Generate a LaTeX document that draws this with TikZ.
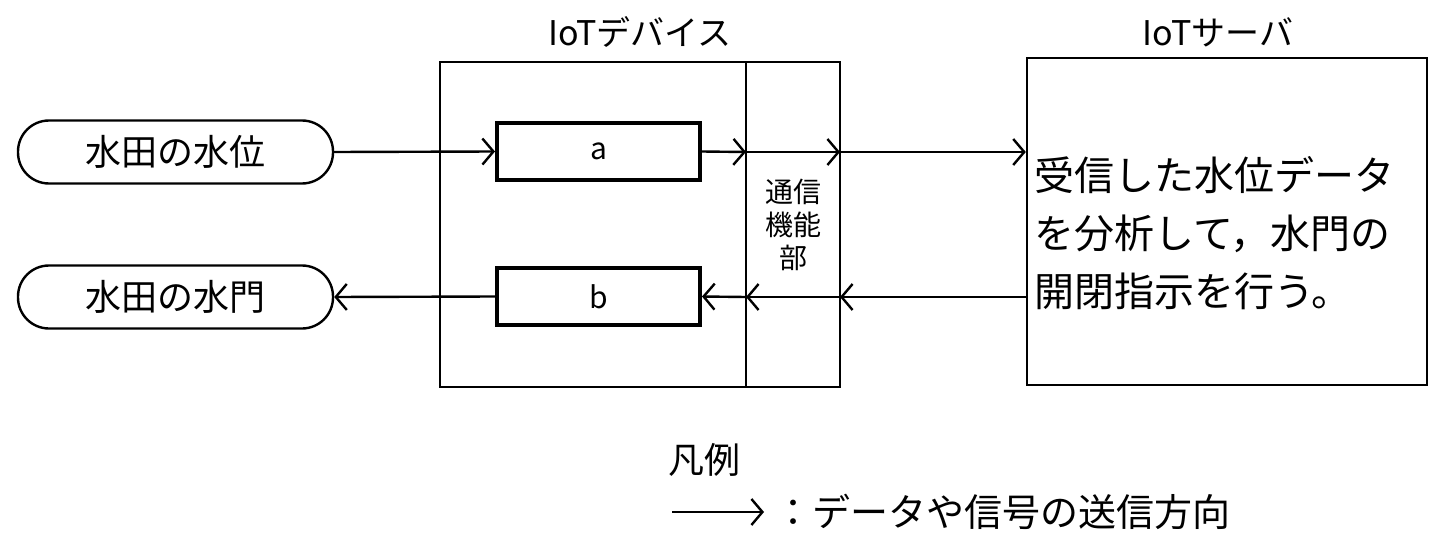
\documentclass[tikz,border=0pt]{standalone}
\usepackage{fontspec}
\setmainfont{Noto Sans CJK JP}
\usetikzlibrary{arrows.meta}
\begin{document}
\begin{tikzpicture}[x=1pt,y=-1pt,
  line width=2.4pt,
  arr/.style={-{Straight Barb[length=11pt,width=26pt,line width=2.4pt]}},
  pill/.style={draw,rounded corners=31pt,minimum width=315pt,minimum height=63pt,font=\fontsize{36}{40}\selectfont},
  blk/.style={draw,line width=4pt,minimum width=203pt,minimum height=57pt,font=\fontsize{30}{34}\selectfont},
  lbl/.style={font=\fontsize{34}{38}\selectfont}]
\useasboundingbox (0,0) rectangle (1443,535);
\node[pill] (in) at (175.5,152) {水田の水位};
\node[pill] (out) at (175.5,297) {水田の水門};
\node[draw,minimum width=400pt,minimum height=325pt] (dev) at (640,224.5) {};
\draw (746,62) coordinate (dt) -- (746,387) coordinate (db);
\node[blk] (a) at (598.5,151.5) {a};
\node[blk] (b) at (598.5,296.5) {b};
\node[font=\fontsize{28}{33}\selectfont,align=center] (com) at (793,225) {通信\\機能\\部};
\node[draw,minimum width=400pt,minimum height=327pt] (srv) at (1227,221.5) {};
\node[anchor=north west,align=left,font=\fontsize{40}{58}\selectfont,inner sep=0pt] (st) at (1033,155) {受信した水位データ\\を分析して，水門の\\開閉指示を行う。};
\node[lbl] (t1) at (640,32) {IoTデバイス};
\node[lbl] (t2) at (1218,32) {IoTサーバ};
\coordinate (u1) at (746,152); \coordinate (u2) at (840,152);
\coordinate (l1) at (746,297); \coordinate (l2) at (840,297);
\draw[arr] (in.east) -- (a.west);
\draw[arr] (a.east) -- (u1);
\draw[arr] (u1) -- (u2);
\draw[arr] (u2) -- (srv.west |- u2);
\draw[arr] (srv.west |- l2) -- (l2);
\draw[arr] (l2) -- (l1);
\draw[arr] (l1) -- (b.east);
\draw[arr] (b.west) -- (out.east);
\node[font=\fontsize{36}{40}\selectfont] (lg) at (704,460) {凡例};
\coordinate (la) at (672,512); \coordinate (lb) at (764,512);
\draw[arr] (la) -- (lb);
\node[font=\fontsize{38}{42}\selectfont,anchor=west] (lt) at (770,512) {：データや信号の送信方向};
\end{tikzpicture}
\end{document}
